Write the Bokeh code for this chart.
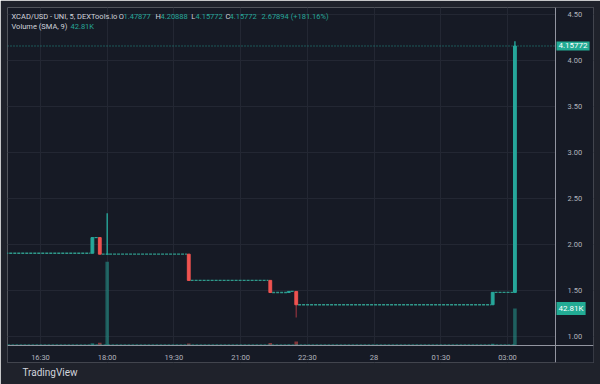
import pandas as pd
from bokeh.plotting import figure
from bokeh.models import (Range1d, FixedTicker, NumeralTickFormatter, Label, Title,
                          BoxAnnotation, ColumnDataSource)
from bokeh.embed import file_html
from bokeh.resources import INLINE

# ---------------- data (5-minute candles, XCAD/USD) ----------------
times = ["2023-04-27 15:40", "2023-04-27 17:40", "2023-04-27 17:45", "2023-04-27 17:50",
         "2023-04-27 18:00", "2023-04-27 19:50", "2023-04-27 21:40", "2023-04-27 22:05",
         "2023-04-27 22:15", "2023-04-28 02:40", "2023-04-28 03:10"]
opens = [1.905, 1.905, 2.075, 2.075, 1.895, 1.895, 1.610, 1.478, 1.490, 1.345, 1.47877]
highs = [1.905, 2.075, 2.075, 2.075, 2.340, 1.895, 1.610, 1.490, 1.490, 1.480, 4.20888]
lows = [1.905, 1.905, 2.075, 1.895, 1.895, 1.610, 1.478, 1.478, 1.207, 1.345, 1.47877]
closes = [1.905, 2.075, 2.075, 1.895, 1.895, 1.610, 1.478, 1.490, 1.345, 1.480, 4.15772]
volumes = [800, 2500, 900, 3200, 97000, 2200, 3000, 1000, 4500, 2000, 42810]
flat_volume = 800

price_ticks = [1.00, 1.50, 2.00, 2.50, 3.00, 3.50, 4.00, 4.50]
time_ticks = ["2023-04-27 16:30", "2023-04-27 18:00", "2023-04-27 19:30", "2023-04-27 21:00",
              "2023-04-27 22:30", "2023-04-28 00:00", "2023-04-28 01:30", "2023-04-28 03:00"]
time_labels = ["16:30", "18:00", "19:30", "21:00", "22:30", "28", "01:30", "03:00"]

symbol = "XCAD/USD - UNI, 5, DEXTools.io"
ohlc_names = ["O", "H", "L", "C"]
ohlc_values = ["1.47877", "4.20888", "4.15772", "4.15772"]
change_text = "2.67894 (+181.16%)"
volume_title = "Volume (SMA, 9)"
volume_value = "42.81K"
last_price = 4.15772
last_volume = 42810

# ---------------- styling ----------------
PANEL = "#161a25"
FRAME = "#1f222b"
GRID = "#232733"
AXIS = "#9295a0"
TXT = "#d1d4dc"
TICK_TXT = "#b2b5be"
UP = "#26a69a"
TAG = "#22ab94"
DOWN = "#ef5350"
DOWN_WICK = "#7e2f3a"
FONT = "Roboto"

t = pd.to_datetime(times)
MIN = pd.Timedelta(minutes=1)
T0 = pd.Timestamp("2023-04-27 16:30")

def ms(ts):
    return float(pd.Timestamp(ts).value // 10**6)

# layout positions (chart geometry)
x_start = T0 - pd.Timedelta(minutes=44.5)
x_end = T0 + pd.Timedelta(minutes=746.0)
price_axis_at = T0 + pd.Timedelta(minutes=694.7)
time_axis_at = 0.90217

colors, wick_colors = [], []
for o, c in zip(opens, closes):
    if c < o:
        colors.append(DOWN); wick_colors.append(DOWN_WICK)
    else:
        colors.append(UP); wick_colors.append(UP)

src = ColumnDataSource(dict(
    t=t, open=opens, high=highs, low=lows, close=closes, vol=volumes,
    top=[max(o, c) for o, c in zip(opens, closes)],
    bottom=[min(o, c) for o, c in zip(opens, closes)],
    color=colors, wick=wick_colors))

# unchanged candles between the moving ones -> dashed steps at previous close
flat = ColumnDataSource(dict(
    x0=[t[i] + 2.5 * MIN for i in range(len(t) - 1)],
    x1=[t[i + 1] - 2.5 * MIN for i in range(len(t) - 1)],
    y=[closes[i] for i in range(len(t) - 1)]))

p = figure(width=600, height=384, x_axis_type="datetime", y_axis_location="right",
           x_range=Range1d(ms(x_start), ms(x_end)), y_range=Range1d(0.71739, 4.5761),
           output_backend="svg", toolbar_location=None,
           min_border_left=7, min_border_top=7, min_border_right=7, min_border_bottom=22,
           background_fill_color=PANEL, border_fill_color=FRAME, outline_line_color=None)

p.extra_y_ranges = {"vol": Range1d(-19670, 391076)}

# grid, limited to the chart pane
p.xgrid.grid_line_color = GRID
p.ygrid.grid_line_color = GRID
p.add_layout(BoxAnnotation(top=time_axis_at, fill_color=PANEL, fill_alpha=1,
                           line_color=None, level="underlay"))
p.add_layout(BoxAnnotation(left=ms(price_axis_at), fill_color=PANEL, fill_alpha=1,
                           line_color=None, level="underlay"))

# volume bars
p.vbar(x="t", top="vol", bottom=0, width=4.8 * 60000, source=src, y_range_name="vol",
       fill_color="color", fill_alpha=0.5, line_color=None)
p.segment(x0=ms(t[0]), x1=ms(t[-1]), y0=flat_volume, y1=flat_volume, y_range_name="vol",
          line_color=UP, line_alpha=0.6, line_width=1.2, line_dash="3 1")

# last price line
p.segment(x0=ms(x_start), x1=ms(price_axis_at), y0=last_price, y1=last_price, line_color=UP,
          line_dash="1 2", line_width=1, line_alpha=0.9)

# flat steps
p.segment(x0="x0", x1="x1", y0="y", y1="y", source=flat, line_color="#2f998b",
          line_width=1.3, line_dash="3 1")

# wicks & bodies
p.segment(x0="t", x1="t", y0="low", y1="high", source=src, line_color="wick", line_width=1.4)
p.vbar(x="t", top="top", bottom="bottom", width=3.8 * 60000, source=src,
       fill_color="color", line_color="color", line_width=1)

# axes (drawn inside the chart panel, like TradingView's price/time scales)
p.yaxis.ticker = FixedTicker(ticks=price_ticks)
p.yaxis.formatter = NumeralTickFormatter(format="0.00")
p.yaxis.fixed_location = ms(price_axis_at)
tick_ms = [ms(x) for x in time_ticks]
p.xaxis.ticker = FixedTicker(ticks=tick_ms)
p.xaxis.major_label_overrides = {k: v for k, v in zip(tick_ms, time_labels)}
p.xaxis.fixed_location = time_axis_at
for ax in (p.xaxis[0], p.yaxis[0]):
    ax.axis_line_color = AXIS
    ax.axis_line_width = 1
    ax.major_tick_line_color = None
    ax.minor_tick_line_color = None
    ax.major_label_text_color = TICK_TXT
    ax.major_label_text_font = FONT
    ax.major_label_text_font_size = "7.5px"
p.yaxis.major_label_standoff = 6
p.xaxis.major_label_standoff = 1

# header legend text (screen coords relative to the chart pane)
def lab(x, y, text, color):
    p.add_layout(Label(x=x, y=y, x_units="screen", y_units="screen", text=text,
                       text_color=color, text_font=FONT, text_font_size="7.5px",
                       text_baseline="middle"))

lab(4, 346, symbol, TXT)
name_x = [111.3, 148, 183.7, 218]
val_x = [116, 153, 188, 222]
for nx, vx, n, v in zip(name_x, val_x, ohlc_names, ohlc_values):
    lab(nx, 346, n, TXT)
    lab(vx, 346, v, UP)
lab(254, 346, change_text, UP)
lab(4, 336.5, volume_title, TXT)
lab(63, 336.5, volume_value, UP)

# value tags on the price scale
p.add_layout(Label(x=549, y=last_price, x_units="screen", y_units="data",
                   text="%.5f" % last_price, text_color="#ffffff", text_font=FONT,
                   text_font_size="8px", text_baseline="middle",
                   background_fill_color=TAG, padding=2))
p.add_layout(Label(x=549, y=last_volume, x_units="screen", y_units="data", y_range_name="vol",
                   text=volume_value, text_color="#ffffff", text_font=FONT,
                   text_font_size="8px", text_baseline="middle",
                   background_fill_color=TAG, padding=2))

# branding below the chart
p.add_layout(Title(text="TradingView", align="left", offset=15, text_color=TXT,
                   text_font=FONT, text_font_size="10px", text_font_style="normal",
                   standoff=4), "below")

open("out.html", "w").write(file_html(p, INLINE))
